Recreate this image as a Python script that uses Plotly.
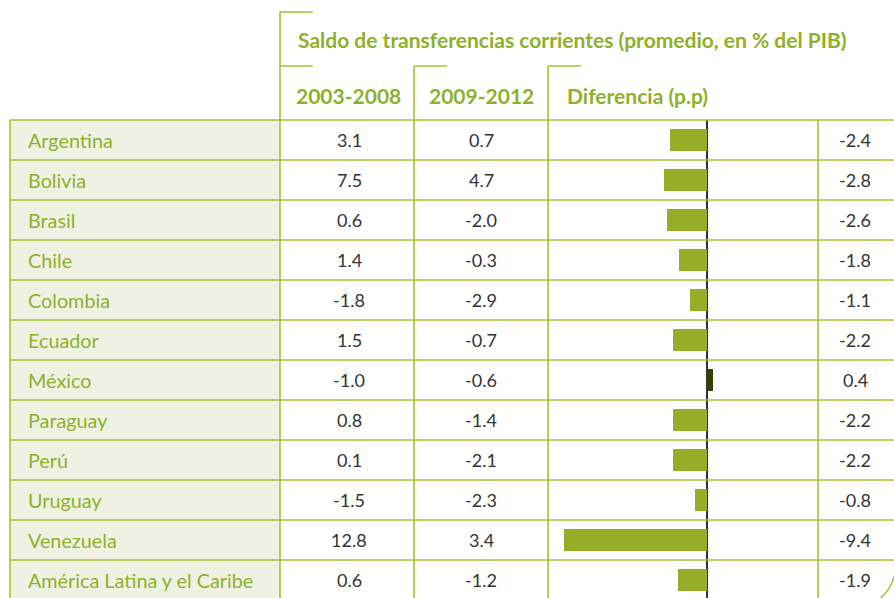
import plotly.graph_objects as go

countries = ["Argentina", "Bolivia", "Brasil", "Chile", "Colombia", "Ecuador", "México",
             "Paraguay", "Perú", "Uruguay", "Venezuela", "América Latina y el Caribe"]
p2003_2008 = ["3.1", "7.5", "0.6", "1.4", "-1.8", "1.5", "-1.0", "0.8", "0.1", "-1.5", "12.8", "0.6"]
p2009_2012 = ["0.7", "4.7", "-2.0", "-0.3", "-2.9", "-0.7", "-0.6", "-1.4", "-2.1", "-2.3", "3.4", "-1.2"]
diferencia = [-2.4, -2.8, -2.6, -1.8, -1.1, -2.2, 0.4, -2.2, -2.2, -0.8, -9.4, -1.9]

title_text = "Saldo de transferencias corrientes (promedio, en % del PIB)"
col_headers = ["2003-2008", "2009-2012", "Diferencia (p.p)"]

W, H = 894, 598
LINE = "#a6c034"
TXT_GREEN = "#8fb02a"
DARK = "#333333"
FONT = "Lato"

def px(x):
    return x / W

def py(y):
    return 1 - y / H

rows = list(range(len(countries)))
colors = ["#2f4200" if v > 0 else "#97ad27" for v in diferencia]

fig = go.Figure()
fig.add_trace(go.Bar(
    x=diferencia, y=rows, orientation="h", marker=dict(color=colors, line=dict(width=0)),
    width=0.53, hoverinfo="skip", showlegend=False,
))

row_top = 120
row_h = 40
y_bottom_val = (H - row_top) / row_h - 0.5

shapes = []
shapes.append(dict(type="rect", xref="paper", yref="paper", x0=px(10), x1=px(280), y0=0, y1=py(row_top),
                   fillcolor="#eff2e3", line=dict(width=0), layer="below"))
for i in range(len(countries) + 1):
    yy = row_top + i * row_h
    if yy <= H:
        shapes.append(dict(type="line", xref="paper", yref="paper", x0=px(10), x1=1, y0=py(yy), y1=py(yy),
                           line=dict(color=LINE, width=1.6)))
for xx in [10, 280, 414, 548, 818]:
    shapes.append(dict(type="line", xref="paper", yref="paper", x0=px(xx), x1=px(xx), y0=0, y1=py(row_top),
                       line=dict(color=LINE, width=1.6)))
shapes.append(dict(type="line", xref="paper", yref="paper", x0=px(280), x1=px(280), y0=py(12), y1=py(row_top),
                   line=dict(color=LINE, width=1.6)))
shapes.append(dict(type="line", xref="paper", yref="paper", x0=px(280), x1=px(313), y0=py(12), y1=py(12),
                   line=dict(color=LINE, width=1.6)))
shapes.append(dict(type="line", xref="paper", yref="paper", x0=px(280), x1=px(313), y0=py(66), y1=py(66),
                   line=dict(color=LINE, width=1.6)))
for xx in [414, 548]:
    shapes.append(dict(type="line", xref="paper", yref="paper", x0=px(xx), x1=px(xx), y0=py(66), y1=py(row_top),
                       line=dict(color=LINE, width=1.6)))
    shapes.append(dict(type="line", xref="paper", yref="paper", x0=px(xx), x1=px(xx + 33), y0=py(66), y1=py(66),
                       line=dict(color=LINE, width=1.6)))
shapes.append(dict(type="path", xref="paper", yref="paper",
                   path=f"M {px(878)},{py(600)} Q {px(892)},{py(590)} {px(896)},{py(570)}",
                   line=dict(color=LINE, width=1.4)))

annotations = []
annotations.append(dict(text=f"<b>{title_text}</b>", xref="paper", yref="paper", x=px(296), y=py(40),
                        xanchor="left", yanchor="middle", showarrow=False,
                        font=dict(family=FONT, size=21, color=TXT_GREEN)))
annotations.append(dict(text=f"<b>{col_headers[0]}</b>", xref="paper", yref="paper", x=px(348), y=py(95),
                        xanchor="center", yanchor="middle", showarrow=False,
                        font=dict(family=FONT, size=21, color=TXT_GREEN)))
annotations.append(dict(text=f"<b>{col_headers[1]}</b>", xref="paper", yref="paper", x=px(481), y=py(95),
                        xanchor="center", yanchor="middle", showarrow=False,
                        font=dict(family=FONT, size=21, color=TXT_GREEN)))
annotations.append(dict(text=f"<b>{col_headers[2]}</b>", xref="paper", yref="paper", x=px(565), y=py(95),
                        xanchor="left", yanchor="middle", showarrow=False,
                        font=dict(family=FONT, size=21, color=TXT_GREEN)))

for i, c in enumerate(countries):
    annotations.append(dict(text=c, xref="paper", yref="y", x=px(26), y=i, xanchor="left", yanchor="middle",
                            showarrow=False, font=dict(family=FONT, size=19.8, color=TXT_GREEN)))
    annotations.append(dict(text=p2003_2008[i], xref="paper", yref="y", x=px(349), y=i, xanchor="center",
                            yanchor="middle", showarrow=False, font=dict(family=FONT, size=18, color=DARK)))
    annotations.append(dict(text=p2009_2012[i], xref="paper", yref="y", x=px(481), y=i, xanchor="center",
                            yanchor="middle", showarrow=False, font=dict(family=FONT, size=18, color=DARK)))
    annotations.append(dict(text=f"{diferencia[i]:.1f}", xref="paper", yref="y", x=px(855), y=i, xanchor="center",
                            yanchor="middle", showarrow=False, font=dict(family=FONT, size=18, color=DARK)))

fig.update_layout(
    width=W, height=H, margin=dict(l=0, r=0, t=0, b=0),
    paper_bgcolor="white", plot_bgcolor="rgba(0,0,0,0)",
    xaxis=dict(domain=[px(548), px(818)], range=[-10.44, 7.32], showgrid=False, showticklabels=False,
               zeroline=True, zerolinecolor="#333333", zerolinewidth=1.5, fixedrange=True),
    yaxis=dict(domain=[0, py(row_top)], range=[y_bottom_val, -0.5], showgrid=False, showticklabels=False,
               zeroline=False, fixedrange=True),
    shapes=shapes, annotations=annotations, bargap=0,
)

fig.write_html("out.html", config={"displayModeBar": False},
               post_script="document.body.style.margin='0';document.body.style.overflow='hidden';")
